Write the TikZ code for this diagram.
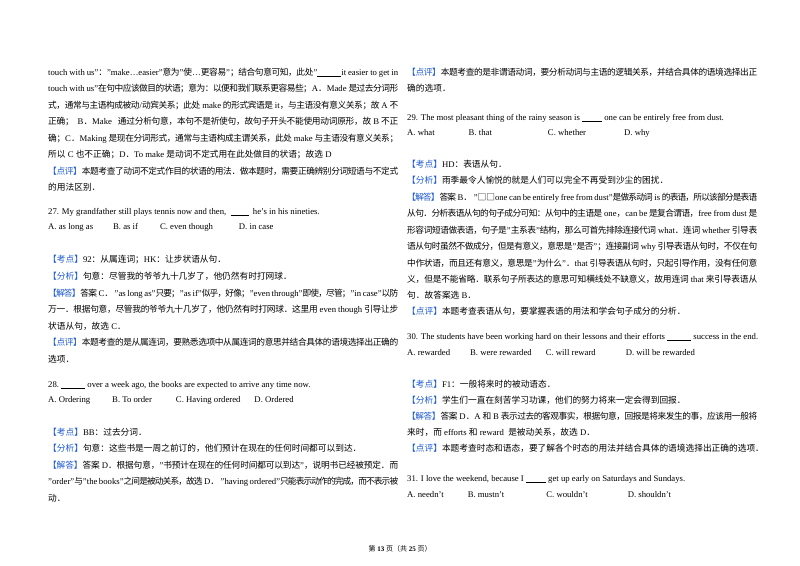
\documentclass[tikz,border=0pt]{standalone}
\usepackage{fontspec}
\setmainfont{Liberation Serif}
\newfontfamily\cjk{Noto Sans CJK SC}
\XeTeXinterchartokenstate=1
\newXeTeXintercharclass\CJKc
\count255="3000
\loop \XeTeXcharclass\count255=\CJKc \ifnum\count255<"9FFF \advance\count255 by 1 \repeat
\count255="FF00
\loop \XeTeXcharclass\count255=\CJKc \ifnum\count255<"FFEF \advance\count255 by 1 \repeat
\XeTeXinterchartoks 0 \CJKc={\begingroup\cjk}
\XeTeXinterchartoks 4095 \CJKc={\begingroup\cjk}
\XeTeXinterchartoks \CJKc 0={\endgroup}
\XeTeXinterchartoks \CJKc 4095={\endgroup}
\XeTeXinterchartoks \CJKc \CJKc={\hskip0pt plus 3pt minus 1pt\relax}
\definecolor{lab}{RGB}{30,90,210}
\newcommand\tag[1]{\textcolor{lab}{【#1】}}
\newcommand\blank[1]{\underline{\hspace{#1}}}
\newcommand\fl[1]{\hbox to 350pt{#1}}
\begin{document}
\begin{tikzpicture}[x=1pt,y=-1pt,every node/.style={anchor=base west,inner sep=0,font=\fontsize{8.7}{10}\selectfont}]
\useasboundingbox[fill=white] (0,0) rectangle (800,565);
% left column
\node (a1) at (48,75) {\fl{touch with us"："make…easier"意为"使…更容易"；结合句意可知，此处"\blank{24pt}it easier to get in}};
\node (a2) at (48,91) {\fl{touch with us"在句中应该做目的状语；意为：以便和我们联系更容易些；A．Made 是过去分词形}};
\node (a3) at (48,108) {\fl{式，通常与主语构成被动/动宾关系；此处 make 的形式宾语是 it，与主语没有意义关系；故 A 不}};
\node (a4) at (48,124) {\fl{正确；\ \ B．Make\ \ \ 通过分析句意，本句不是祈使句，故句子开头不能使用动词原形，故 B 不正}};
\node (a5) at (48,141) {\fl{确；C．Making 是现在分词形式，通常与主语构成主谓关系，此处 make 与主语没有意义关系；}};
\node (a6) at (48,157) {所以 C 也不正确；D．To make 是动词不定式用在此处做目的状语；故选 D};
\node (a7) at (48,174) {\fl{\tag{点评}本题考查了动词不定式作目的状语的用法．做本题时，需要正确辨别分词短语与不定式}};
\node (a8) at (48,190) {的用法区别．};
\node (a9) at (48,214) {27. My grandfather still plays tennis now and then,\ \ \blank{18pt}\ \ he's in his nineties.};
\node (a10) at (48,229) {A. as long as\hspace{20pt}B. as if\hspace{22pt}C. even though\hspace{26pt}D. in case};
\node (a11) at (48,262) {\tag{考点}92：从属连词；HK：让步状语从句．};
\node (a12) at (48,279) {\tag{分析}句意：尽管我的爷爷九十几岁了，他仍然有时打网球．};
\node (a13) at (48,296) {\fl{\tag{解答}答案 C． "as long as"只要；"as if"似乎，好像；"even through"即使，尽管；"in case"以防}};
\node (a14) at (48,312) {\fl{万一．根据句意，尽管我的爷爷九十几岁了，他仍然有时打网球．这里用 even though 引导让步}};
\node (a15) at (48,329) {状语从句，故选 C．};
\node (a16) at (48,345) {\fl{\tag{点评}本题考查的是从属连词，要熟悉选项中从属连词的意思并结合具体的语境选择出正确的}};
\node (a17) at (48,362) {选项．};
\node (a18) at (48,387) {28.\ \blank{24pt}\ over a week ago, the books are expected to arrive any time now.};
\node (a19) at (48,402) {A. Ordering\hspace{22pt}B. To order\hspace{24pt}C. Having ordered\hspace{14pt}D. Ordered};
\node (a20) at (48,435) {\tag{考点}BB：过去分词．};
\node (a21) at (48,451) {\tag{分析}句意：这些书是一周之前订的，他们预计在现在的任何时间都可以到达．};
\node (a22) at (48,468) {\fl{\tag{解答}答案 D．根据句意，"书预计在现在的任何时间都可以到达"，说明书已经被预定．而}};
\node (a23) at (48,484) {\fl{"order"与"the books"之间是被动关系，故选 D． "having ordered"只能表示动作的完成，而不表示被}};
\node (a24) at (48,501) {动．};
% right column
\node (b1) at (407,75) {\fl{\tag{点评}本题考查的是非谓语动词，要分析动词与主语的逻辑关系，并结合具体的语境选择出正}};
\node (b2) at (407,91) {确的选项．};
\node (b3) at (407,120) {29. The most pleasant thing of the rainy season is \blank{20pt} one can be entirely free from dust.};
\node (b4) at (407,135) {A. what\hspace{34pt}B. that\hspace{56pt}C. whether\hspace{38pt}D. why};
\node (b5) at (407,167) {\tag{考点}HD：表语从句．};
\node (b6) at (407,183) {\tag{分析}雨季最令人愉悦的就是人们可以完全不再受到沙尘的困扰．};
\node (b7) at (407,200) {\fl{\tag{解答}答案 B． "{\cjk □□}one can be entirely free from dust"是做系动词 is 的表语，所以该部分是表语}};
\node (b8) at (407,216) {\fl{从句．分析表语从句的句子成分可知：从句中的主语是 one，can be 是复合谓语，free from dust 是}};
\node (b9) at (407,233) {\fl{形容词短语做表语，句子是"主系表"结构，那么可首先排除连接代词 what．连词 whether 引导表}};
\node (b10) at (407,249) {\fl{语从句时虽然不做成分，但是有意义，意思是"是否"；连接副词 why 引导表语从句时，不仅在句}};
\node (b11) at (407,266) {\fl{中作状语，而且还有意义，意思是"为什么"．that 引导表语从句时，只起引导作用，没有任何意}};
\node (b12) at (407,282) {\fl{义，但是不能省略．联系句子所表达的意思可知横线处不缺意义，故用连词 that 来引导表语从}};
\node (b13) at (407,298) {句．故答案选 B．};
\node (b14) at (407,314) {\tag{点评}本题考查表语从句，要掌握表语的用法和学会句子成分的分析．};
\node (b15) at (407,339) {30. The students have been working hard on their lessons and their efforts \blank{24pt} success in the end.};
\node (b16) at (407,355) {A. rewarded\hspace{20pt}B. were rewarded\hspace{14pt}C. will reward\hspace{30pt}D. will be rewarded};
\node (b17) at (407,387) {\tag{考点}F1：一般将来时的被动语态．};
\node (b18) at (407,403) {\tag{分析}学生们一直在刻苦学习功课，他们的努力将来一定会得到回报．};
\node (b19) at (407,419) {\fl{\tag{解答}答案 D．A 和 B 表示过去的客观事实，根据句意，回报是将来发生的事，应该用一般将}};
\node (b20) at (407,435) {来时，而 efforts 和 reward\ \ 是被动关系，故选 D．};
\node (b21) at (407,451) {\tag{点评}本题考查时态和语态，要了解各个时态的用法并结合具体的语境选择出正确的选项．};
\node (b22) at (407,481) {31. I love the weekend, because I \blank{20pt} get up early on Saturdays and Sundays.};
\node (b23) at (407,497) {A. needn't\hspace{24pt}B. mustn't\hspace{42pt}C. wouldn't\hspace{40pt}D. shouldn't};
\node[anchor=base,font=\fontsize{7}{8}\selectfont] (ft) at (400,551) {第 \textbf{13} 页（共 \textbf{25} 页）};
\end{tikzpicture}
\end{document}
